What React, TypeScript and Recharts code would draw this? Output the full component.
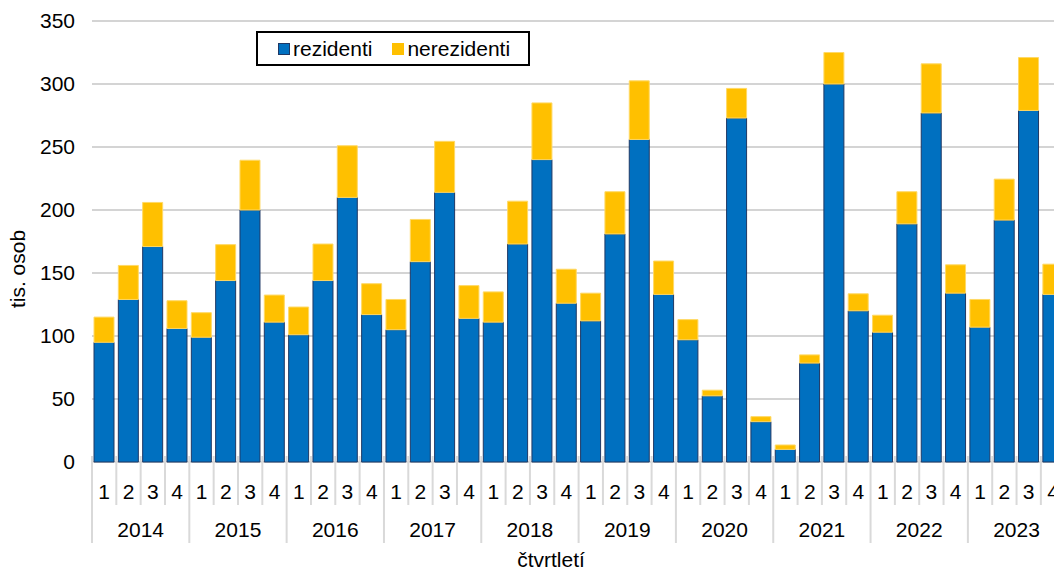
import { BarChart, Bar, XAxis, YAxis, CartesianGrid, Legend } from "recharts";

const years = ["2014", "2015", "2016", "2017", "2018", "2019", "2020", "2021", "2022", "2023"];
const quarters = ["1", "2", "3", "4"];
const seriesNames = ["rezidenti", "nerezidenti"];

// tis. osob
const rezidenti = [
  95, 129, 171, 106,
  99, 144, 200, 111,
  101, 144, 210, 117,
  105, 159, 214, 114,
  111, 173, 240, 126,
  112, 181, 256, 133,
  97, 52.5, 273, 32,
  10, 78.5, 300, 120,
  103, 189, 277, 134,
  107, 192, 279, 133,
];
const nerezidenti = [
  20, 27, 35, 22,
  19.5, 28.5, 39.5, 21.5,
  22, 29, 41, 24.5,
  24, 33.5, 40.5, 26,
  24, 34, 45, 27,
  22, 33.5, 46.5, 26.5,
  16, 4.5, 23.5, 4,
  3.5, 6.5, 25, 13.5,
  13.5, 25.5, 39, 22.5,
  22, 32.5, 42, 24,
];
const yTicks = [0, 50, 100, 150, 200, 250, 300, 350];

const BLUE = "#0070C0";
const YELLOW = "#FFC000";
const FONT = "'Liberation Sans', Arial, sans-serif";

const CHART_W = 1075;
const CHART_H = 571;
const Y_AXIS_W = 92;
const PLOT_W = 973.2;
const MARGIN_RIGHT = CHART_W - Y_AXIS_W - PLOT_W;

const data = rezidenti.map((r, i) => ({
  key: `${years[Math.floor(i / 4)]}-${quarters[i % 4]}`,
  year: years[Math.floor(i / 4)],
  quarter: quarters[i % 4],
  rezidenti: r,
  nerezidenti: nerezidenti[i],
}));

const BAND = PLOT_W / data.length;

function QuarterTick(props: any) {
  const { x, y, index } = props;
  const row = data[index];
  if (!row) return null;
  const q = index % 4;
  const left = x - BAND / 2;
  return (
    <g>
      <line
        x1={left}
        x2={left}
        y1={y - 6}
        y2={y + (q === 0 ? 81 : 43)}
        stroke="#d9d9d9"
        strokeWidth={2}
      />
      <text x={x} y={y + 37} textAnchor="middle" fontSize={21} fill="#000">
        {row.quarter}
      </text>
      {q === 0 && (
        <text x={left + 2 * BAND} y={y + 75} textAnchor="middle" fontSize={21} fill="#000">
          {row.year}
        </text>
      )}
    </g>
  );
}

function YTitle() {
  return (
    <text x={25} y={269} transform="rotate(-90, 25, 269)" textAnchor="middle" fontSize={21} fill="#000">
      tis. osob
    </text>
  );
}

function XTitle() {
  return (
    <text x={551} y={567} textAnchor="middle" fontSize={21} fill="#000">
      čtvrtletí
    </text>
  );
}

function LegendBox({ payload }: any) {
  const items = seriesNames
    .map((n) => (payload || []).find((p: any) => p.value === n))
    .filter(Boolean);
  return (
    <div
      style={{
        boxSizing: "border-box",
        width: 274,
        height: 35,
        border: "2px solid #000",
        background: "#fff",
        display: "flex",
        alignItems: "center",
        paddingLeft: 20,
        fontSize: 21,
        fontFamily: FONT,
        color: "#000",
      }}
    >
      {items.map((p: any, i: number) => (
        <div key={p.value} style={{ display: "flex", alignItems: "center", marginRight: i === 0 ? 20 : 0 }}>
          <span
            style={{
              display: "inline-block",
              width: 12,
              height: 12,
              background: p.color,
              border: i === 0 ? "1px solid #1f3864" : "none",
              boxSizing: "border-box",
              marginRight: 3,
            }}
          />
          <span>{p.value}</span>
        </div>
      ))}
    </div>
  );
}

export default function App() {
  return (
    <div
      style={{
        position: "fixed",
        left: 0,
        top: 0,
        width: 1054,
        height: 571,
        overflow: "hidden",
        background: "#fff",
        fontFamily: FONT,
      }}
    >
      <BarChart
        width={CHART_W}
        height={CHART_H}
        data={data}
        margin={{ top: 21, right: MARGIN_RIGHT, left: 0, bottom: 0 }}
      >
        <CartesianGrid vertical={false} stroke="#c6c6c6" strokeWidth={1.5} />
        <XAxis
          dataKey="key"
          interval={0}
          height={CHART_H - 462}
          axisLine={false}
          tickLine={false}
          tickSize={0}
          tickMargin={0}
          tick={<QuarterTick />}
          label={<XTitle />}
        />
        <YAxis
          type="number"
          domain={[0, 350]}
          ticks={yTicks}
          interval={0}
          width={Y_AXIS_W}
          axisLine={false}
          tickLine={false}
          tickSize={0}
          tickMargin={17}
          tick={{ fill: "#000", fontSize: 21 }}
          label={<YTitle />}
        />
        <Legend
          layout="vertical"
          align="center"
          verticalAlign="middle"
          wrapperStyle={{ left: 256, top: 31, width: 274, height: 35 }}
          content={<LegendBox />}
        />
        <Bar
          dataKey="rezidenti"
          name="rezidenti"
          stackId="a"
          fill={BLUE}
          stroke="#1f3864"
          strokeWidth={1}
          barSize={20}
          isAnimationActive={false}
        />
        <Bar
          dataKey="nerezidenti"
          name="nerezidenti"
          stackId="a"
          fill={YELLOW}
          stroke="#ffd966"
          strokeWidth={1}
          barSize={20}
          isAnimationActive={false}
        />
      </BarChart>
    </div>
  );
}
